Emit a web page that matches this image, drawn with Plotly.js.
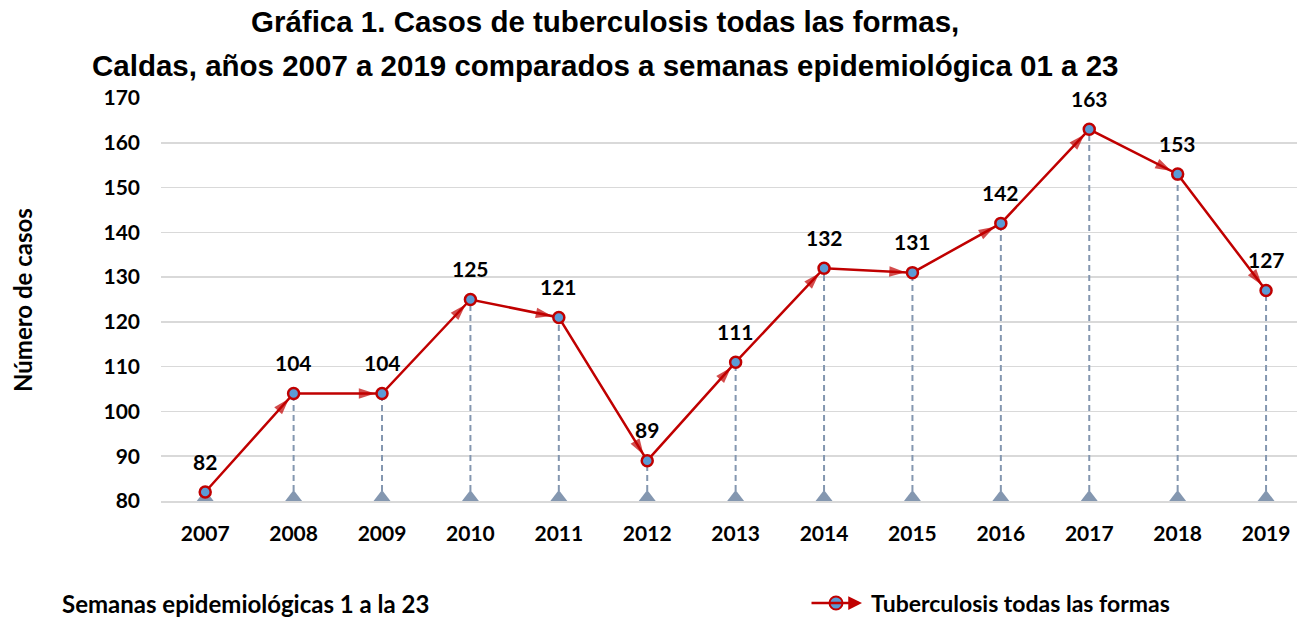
<!DOCTYPE html>
<html>
<head>
<meta charset="utf-8">
<script src="https://cdn.plot.ly/plotly-3.0.1.min.js"></script>
<style>html,body{margin:0;padding:0;background:#fff;}#chart{width:1297px;height:619px;}</style>
</head>
<body>
<div id="chart"></div>
<script>
var years = [2007, 2008, 2009, 2010, 2011, 2012, 2013, 2014, 2015, 2016, 2017, 2018, 2019];
var cases = [82, 104, 104, 125, 121, 89, 111, 132, 131, 142, 163, 153, 127];
var baseValue = 80;
var seriesName = "Tuberculosis todas las formas";
var titleLine1 = "Gráfica 1. Casos de tuberculosis todas las formas,";
var titleLine2 = "Caldas, años 2007 a 2019 comparados a semanas epidemiológica 01 a 23";
var yTitle = "Número de casos";
var footNote = "Semanas epidemiológicas 1 a la 23";

var LBL = "Lato, 'Open Sans', sans-serif";
var TITLE = "'Liberation Sans', Arial, sans-serif";
var RED = "#c00000", BLUE = "#5b9bd5", GREYBLUE = "#8497b0";

// plot area in pixels -> paper helpers (for decorations only)
var PL = 161, PR = 1297, PT = 98, PB = 501;
function px(v) { return (v - PL) / (PR - PL); }
function py(v) { return (PB - v) / (PB - PT); }

// drop lines built from data
var dropX = [], dropY = [];
years.forEach(function (yr, i) {
  dropX.push(yr, yr, null);
  dropY.push(baseValue, cases[i], null);
});

var traces = [
  {
    x: dropX, y: dropY, mode: "lines", type: "scatter",
    line: {color: GREYBLUE, width: 2, dash: "6px,4px"},
    hoverinfo: "skip", showlegend: false
  },
  {
    x: years, y: years.map(function () { return baseValue; }),
    mode: "markers", type: "scatter",
    marker: {symbol: "triangle-up", size: 22, color: GREYBLUE},
    hoverinfo: "skip", showlegend: false, cliponaxis: true
  },
  {
    x: years, y: cases, mode: "lines+markers", type: "scatter", name: seriesName,
    line: {color: RED, width: 2.5},
    marker: {symbol: "circle", size: 11, color: BLUE, line: {color: RED, width: 2.5}},
    showlegend: false
  },
  {
    x: years, y: cases, mode: "markers", type: "scatter",
    marker: {
      symbol: "arrow", angleref: "previous", standoff: 7,
      size: years.map(function (y, i) { return i === 0 ? 0 : 17; }),
      color: RED, line: {width: 0}
    },
    hoverinfo: "skip", showlegend: false
  }
];

var annotations = years.map(function (yr, i) {
  return {
    x: yr, y: cases[i], xref: "x", yref: "y", text: String(cases[i]),
    showarrow: false, yshift: 31, yanchor: "middle",
    font: {family: LBL, size: 21, color: "#000", weight: "bold"}
  };
});

annotations.push(
  {xref: "paper", yref: "paper", x: px(605), y: py(21), text: titleLine1, showarrow: false,
   xanchor: "center", yanchor: "middle", font: {family: TITLE, size: 29.5, color: "#000", weight: "bold"}},
  {xref: "paper", yref: "paper", x: px(605), y: py(65), text: titleLine2, showarrow: false,
   xanchor: "center", yanchor: "middle", font: {family: TITLE, size: 29.5, color: "#000", weight: "bold"}},
  {xref: "paper", yref: "paper", x: px(22), y: py(300), text: yTitle, showarrow: false, textangle: -90,
   xanchor: "center", yanchor: "middle", font: {family: LBL, size: 24, color: "#000", weight: "bold"}},
  {xref: "paper", yref: "paper", x: px(60), y: py(603), text: footNote, showarrow: false,
   xanchor: "left", yanchor: "middle", font: {family: LBL, size: 24, color: "#000", weight: "bold"}},
  // legend: arrow line + label
  {xref: "paper", yref: "paper", x: px(862), y: py(603), ax: -52, ay: 0, text: "", showarrow: true,
   arrowhead: 2, arrowsize: 1.1, arrowwidth: 2.5, arrowcolor: RED},
  {xref: "paper", yref: "paper", x: px(869), y: py(603), text: seriesName, showarrow: false,
   xanchor: "left", yanchor: "middle", font: {family: LBL, size: 23, color: "#000", weight: "bold"}}
);

var shapes = [
  {type: "circle", xref: "paper", yref: "paper",
   x0: px(829.5), x1: px(842.5), y0: py(609.5), y1: py(596.5),
   fillcolor: BLUE, line: {color: RED, width: 2}}
];

var layout = {
  width: 1297, height: 619,
  margin: {l: PL, r: 1297 - PR, t: PT, b: 619 - PB, autoexpand: false},
  paper_bgcolor: "#fff", plot_bgcolor: "#fff",
  showlegend: false,
  xaxis: {
    range: [2006.5, 2019.35], tickvals: years, ticktext: years.map(String),
    showgrid: false, zeroline: false, showline: true, linecolor: "#d9d9d9", linewidth: 1.5,
    ticks: "", ticklabelstandoff: 13,
    tickfont: {family: LBL, size: 21, color: "#000", weight: "bold"}
  },
  yaxis: {
    range: [80, 170], dtick: 10, tick0: 80,
    showgrid: true, gridcolor: "#d9d9d9", gridwidth: 1.5, zeroline: false, showline: false,
    ticks: "", ticklabelstandoff: 20,
    tickfont: {family: LBL, size: 21, color: "#000", weight: "bold"}
  },
  annotations: annotations,
  shapes: shapes
};

Plotly.newPlot("chart", traces, layout, {displayModeBar: false, staticPlot: true});
</script>
</body>
</html>
